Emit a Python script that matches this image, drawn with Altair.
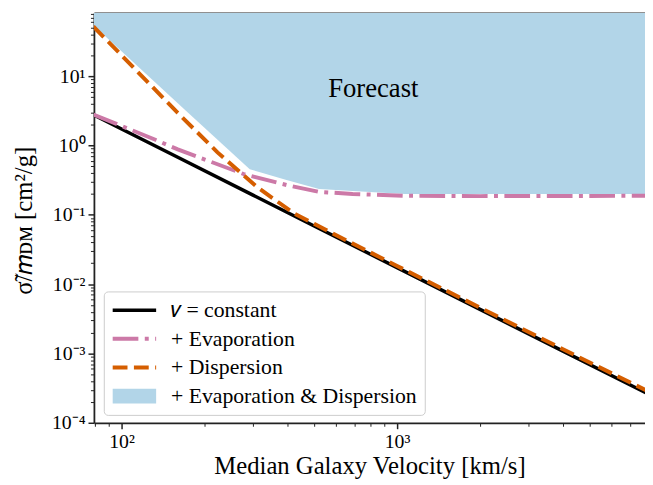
import math
import altair as alt
import pandas as pd

FONT = "Liberation Serif"
LEGEND_FONT = "Times New Roman, Liberation Serif, serif"

# ---------------- data ----------------
series_names = ["𝑣 = constant", "+ Evaporation", "+ Dispersion", "+ Evaporation & Dispersion"]
series_colors = ["#000000", "#CC79A7", "#D55E00", "#b2d5e8"]

const_v = [79, 100, 160, 300, 500, 1000, 2000, 4000, 8000]
const_s = [2.77, 1.73, 0.675, 0.192, 0.069, 0.0173, 0.00432, 0.00108, 0.00027]

evap_v = [79, 132, 160, 278, 397, 521, 690, 1068, 2000, 4000, 8000]
evap_s = [2.8, 1.22, 0.877, 0.386, 0.269, 0.214, 0.2, 0.188, 0.186, 0.187, 0.188]

disp_v = [79, 100, 160, 223, 310, 424, 500, 690, 1000, 2000, 4000, 8000]
disp_s = [52, 20, 2.95, 0.795, 0.252, 0.104, 0.074, 0.0385, 0.0183, 0.00458, 0.00115, 0.000295]

band_v = [79, 174, 292, 397, 521, 690, 1068, 3000, 8000]
band_s = [54, 3.0, 0.455, 0.317, 0.236, 0.221, 0.2, 0.2, 0.2]

note_text = ["Forecast"]
note_v = [820]
note_s = [5.0]

x_domain = [79.4, 7940]
y_domain = [1e-4, 81.6]
x_major = [100, 1000]
x_minor = [80, 90, 200, 300, 400, 500, 600, 700, 800, 900,
           2000, 3000, 4000, 5000, 6000, 7000]
y_major = [1e-4, 1e-3, 1e-2, 1e-1, 1, 10]
y_minor = [m * 10 ** e for e in range(-4, 2) for m in range(2, 10) if m * 10 ** e <= 81]

x_title = "Median Galaxy Velocity [km/s]"
y_title = "σ̃/𝑚ᴅᴍ [cm²/g]"

# ---------------- helpers ----------------
SUP = {"-": "⁻", "0": "⁰", "1": "¹", "2": "²", "3": "³", "4": "⁴",
       "5": "⁵", "6": "⁶", "7": "⁷", "8": "⁸", "9": "⁹"}


def sup(n):
    return "".join(SUP[c] for c in str(n))


def label_expr(majors):
    expr = "''"
    for m in majors:
        e = round(math.log10(m))
        expr = f"abs(datum.value - {m!r}) < {abs(m) * 1e-6!r} ? '10{sup(e)}' : " + expr
    return expr


MAJ = "abs(log(datum.value)/LN10 - round(log(datum.value)/LN10)) < 0.001"

xs = alt.Scale(type="log", domain=x_domain, nice=False)
ys = alt.Scale(type="log", domain=y_domain, nice=False)

tick_size = {"condition": {"test": MAJ, "value": 6}, "value": 3.5}
tick_width = {"condition": {"test": MAJ, "value": 1.5}, "value": 1.0}

x_axis = alt.Axis(values=x_major + x_minor, labelExpr=label_expr(x_major),
                  tickSize=tick_size, tickWidth=tick_width, labelFlush=False,
                  labelOverlap=False, labelPadding=3, title=x_title,
                  titlePadding=2)
y_axis = alt.Axis(values=y_major + y_minor, labelExpr=label_expr(y_major),
                  tickSize=tick_size, tickWidth=tick_width, labelOverlap=False,
                  labelFlush=False, labelPadding=3, title=y_title,
                  titleX=-71, titleY=210, titleBaseline="middle", titleAngle=270)
top_axis = alt.Axis(orient="top", labels=False, ticks=False, title=None)

color_scale = alt.Scale(domain=series_names, range=series_colors)

AREA = series_names[3]
legend = alt.Legend(
    orient="none", legendX=10, legendY=282, title=None,
    fillColor="white", strokeColor="#cccccc", cornerRadius=4, padding=8,
    labelFont={"expr": f"'{LEGEND_FONT}'"}, labelFontSize=22, labelColor="black", labelLimit=400,
    labelOffset=26, rowPadding=7, symbolSize=400, symbolOffset=12,
    symbolType={"expr": f"datum.value === '{AREA}' ? 'M-2.2,-0.75H2.2V0.75H-2.2Z' : 'M-2.2,0H2.2'"},
    symbolFillColor={"expr": f"datum.value === '{AREA}' ? '{series_colors[3]}' : 'transparent'"},
    symbolStrokeWidth={"expr": f"datum.value === '{AREA}' ? 0 : datum.value === '{series_names[0]}' ? 3.5 : 4"},
    symbolDash={"expr": f"datum.value === '{series_names[1]}' ? [26,6.5,4,6.5] : datum.value === '{series_names[2]}' ? [15,6.5] : [1,0]"},
)

# ---------------- layers ----------------
band_df = pd.DataFrame({"v": band_v, "s": band_s, "top": y_domain[1]})
area = alt.Chart(band_df).mark_area(color=series_colors[3], orient="vertical", clip=True).encode(
    x=alt.X("v:Q", scale=xs, axis=x_axis),
    y=alt.Y("s:Q", scale=ys, axis=y_axis, stack=None),
    y2="top:Q",
)


def line_layer(vs, ss, name, width, dash):
    df = pd.DataFrame({"v": vs, "s": ss, "series": name})
    mk = dict(strokeWidth=width, clip=True)
    if dash:
        mk["strokeDash"] = dash
    return alt.Chart(df).mark_line(**mk).encode(
        x=alt.X("v:Q", scale=xs, axis=None),
        y=alt.Y("s:Q", scale=ys, axis=y_axis),
        color=alt.Color("series:N", scale=color_scale, legend=legend),
    )


l_const = line_layer(const_v, const_s, series_names[0], 3.5, None)
l_evap = line_layer(evap_v, evap_s, series_names[1], 4, [26, 6.5, 4, 6.5])
l_disp = line_layer(disp_v, disp_s, series_names[2], 4, [15, 6.5])

note_df = pd.DataFrame({"v": note_v, "s": note_s, "t": note_text})
note = alt.Chart(note_df).mark_text(font=FONT, fontSize=27, align="center",
                                    baseline="alphabetic", color="black").encode(
    x=alt.X("v:Q", scale=xs, axis=top_axis),
    y=alt.Y("s:Q", scale=ys, axis=y_axis),
    text="t:N",
)

chart = alt.layer(area, l_const, l_evap, l_disp, note).resolve_axis(x="independent").properties(
    width=558, height=415,
    autosize=alt.AutoSizeParams(type="none"),
    padding={"left": 87, "top": 2, "right": 0, "bottom": 60},
    background="white",
).configure(font=FONT).configure_view(stroke=None).configure_axis(
    grid=False, domainColor="#222222", domainWidth=1.8, tickColor="#222222",
    labelFont=FONT, labelFontSize=20, labelColor="black",
    titleFont=FONT, titleFontSize=25, titleColor="black", titleFontWeight="normal",
)

chart.save("out.html", embed_options={"renderer": "svg", "actions": False})
